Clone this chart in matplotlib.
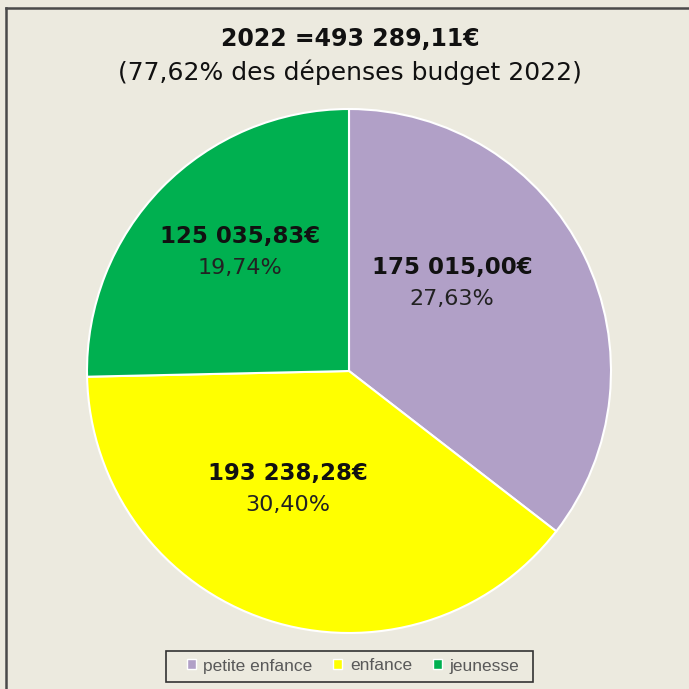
import matplotlib
matplotlib.use("Agg")
import matplotlib.pyplot as plt
from matplotlib.lines import Line2D
from matplotlib.patches import Rectangle
import numpy as np

categories = ["petite enfance", "enfance", "jeunesse"]
values = [175015.00, 193238.28, 125035.83]
value_labels = ["175 015,00€", "193 238,28€", "125 035,83€"]
pct_labels = ["27,63%", "30,40%", "19,74%"]
colors = ["#B1A0C7", "#FFFF00", "#00B050"]
title = "2022 =493 289,11€"
subtitle = "(77,62% des dépenses budget 2022)"

bg = "#ECEADF"
plt.rcParams['font.family'] = ['DejaVu Sans']

fig = plt.figure(figsize=(6.89, 6.89), dpi=100, facecolor=bg)
W = H = 689.0

# frame lines (left and top)
fig.add_artist(Line2D([6/W, 6/W], [0, 1 - 8/H], color="#4a4a4a", lw=1.8, transform=fig.transFigure))
fig.add_artist(Line2D([6/W, 1], [1 - 8/H, 1 - 8/H], color="#4a4a4a", lw=1.8, transform=fig.transFigure))

cx, cy, r = 349, 371, 262
ax = fig.add_axes([(cx - r)/W, 1 - (cy + r)/H, 2*r/W, 2*r/H])
ax.set_facecolor(bg)
wedges, _ = ax.pie(values, colors=colors, startangle=90, counterclock=False,
                   wedgeprops=dict(edgecolor="white", linewidth=1.5))
ax.set_xlim(-1, 1)
ax.set_ylim(-1, 1)
ax.set_aspect("equal")

# label positions (data coords, relative to radius)
label_pos = [(0.393, 0.336), (-0.233, -0.450), (-0.416, 0.454)]
for (x, y), vl, pl in zip(label_pos, value_labels, pct_labels):
    ax.text(x, y + 0.06, vl, ha="center", va="center", fontsize=16.5, fontweight="bold", color="#111111")
    ax.text(x, y - 0.06, pl, ha="center", va="center", fontsize=16, color="#222222")

fig.text(350/W, 1 - 39/H, title, ha="center", va="center", fontsize=17, fontweight="bold", color="#111111")
fig.text(350/W, 1 - 72/H, subtitle, ha="center", va="center", fontsize=18, color="#111111")

# legend box
fig.add_artist(Rectangle((166/W, 1 - 682/H), (533 - 166)/W, 31/H, transform=fig.transFigure,
                         facecolor=bg, edgecolor="#333333", lw=1.2))
handles = [plt.Rectangle((0, 0), 1, 1, facecolor=c, edgecolor="white", lw=1) for c in colors]
leg = fig.legend(handles, categories, loc="center", bbox_to_anchor=(353/W, 1 - 666/H),
                 ncol=3, frameon=False, handlelength=0.5, handleheight=0.5,
                 handletextpad=0.45, columnspacing=1.2, borderpad=0.0,
                 borderaxespad=0.0, prop={'family': 'Liberation Sans', 'size': 12.5})
for t in leg.get_texts():
    t.set_color("#595959")

fig.savefig("out.png", dpi=100, facecolor=bg)
